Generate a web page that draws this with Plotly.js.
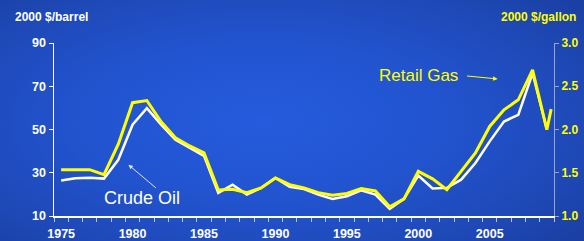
<!DOCTYPE html>
<html>
<head>
<meta charset="utf-8">
<script src="https://cdn.plot.ly/plotly-3.0.1.min.js"></script>
<style>
  html, body { margin: 0; padding: 0; }
  body {
    width: 584px; height: 241px; overflow: hidden;
    background: radial-gradient(ellipse 75% 80% at 45% 50%, #255bdc 0%, #2254d0 40%, #1e48b5 75%, #1a3d9e 100%);
  }
  #chart { width: 584px; height: 241px; }
</style>
</head>
<body>
<div id="chart"></div>
<script>
// ---- data ----
const oilYears = [1975,1976,1977,1978,1979,1980,1981,1982,1983,1984,1985,1986,1987,1988,1989,1990,1991,1992,1993,1994,1995,1996,1997,1998,1999,2000,2001,2002,2003,2004,2005,2006,2007,2008,2009];
const crudeOil = [26.4,27.4,27.7,27.3,36.0,52.2,59.9,52.2,45.3,41.4,37.8,20.7,24.5,19.9,23.0,27.6,23.5,22.5,19.9,17.9,19.1,21.9,19.9,13.3,17.9,28.7,22.7,23.0,26.8,34.5,44.5,53.7,56.8,76.0,50.0];
const gasYears = [1975,1976,1977,1978,1979,1980,1981,1982,1983,1984,1985,1986,1987,1988,1989,1990,1991,1992,1993,1994,1995,1996,1997,1998,1999,2000,2001,2002,2003,2004,2005,2006,2007,2008,2009,2009.3];
const retailGas = [1.536,1.536,1.536,1.478,1.83,2.31,2.335,2.09,1.905,1.81,1.73,1.30,1.31,1.27,1.325,1.44,1.363,1.325,1.27,1.24,1.26,1.317,1.29,1.106,1.198,1.516,1.43,1.305,1.516,1.728,2.035,2.228,2.343,2.689,1.997,2.236];
const xTickVals = [1975,1980,1985,1990,1995,2000,2005];
const xTickText = ['1975','1980','1985','1990','1995','2000','2005'];
const yLeftTicks = [10,30,50,70,90];
const yRightTicks = [1.0,1.5,2.0,2.5,3.0];
const yRightText = ['1.0','1.5','2.0','2.5','3.0'];

const FONT = 'Liberation Sans, Arial, Helvetica, sans-serif';
const YEL = '#ffff00';

const traces = [
  {
    x: oilYears, y: crudeOil, type: 'scatter', mode: 'lines', name: 'Crude Oil',
    line: { color: '#ffffff', width: 2.5 }, yaxis: 'y', hoverinfo: 'skip'
  },
  {
    x: gasYears, y: retailGas, type: 'scatter', mode: 'lines', name: 'Retail Gas',
    line: { color: YEL, width: 3 }, yaxis: 'y2', hoverinfo: 'skip'
  }
];

const layout = {
  width: 584, height: 241,
  margin: { l: 54, r: 30, t: 43, b: 25, pad: 0 },
  paper_bgcolor: 'rgba(0,0,0,0)',
  plot_bgcolor: 'rgba(0,0,0,0)',
  showlegend: false,
  font: { family: FONT },
  xaxis: {
    range: [1974.5, 2009.5],
    showgrid: false, zeroline: false,
    showline: true, linecolor: '#ffffff', linewidth: 1.5,
    tickmode: 'array', tickvals: xTickVals, ticktext: xTickText,
    ticks: '', ticklabelstandoff: 5,
    tickfont: { family: FONT, size: 12.5, color: '#ffffff', weight: 'bold' },
    minor: { tick0: 1974.5, dtick: 1, ticks: 'outside', ticklen: 4, tickwidth: 1, tickcolor: '#b8c6ee', showgrid: false }
  },
  yaxis: {
    range: [10, 90],
    showgrid: false, zeroline: false,
    showline: true, linecolor: '#ffffff', linewidth: 1.5,
    tickmode: 'array', tickvals: yLeftTicks,
    ticks: 'outside', ticklen: 4, tickcolor: '#ffffff', tickwidth: 1,
    tickfont: { family: FONT, size: 12.5, color: '#ffffff', weight: 'bold' }
  },
  yaxis2: {
    range: [1, 3], overlaying: 'y', side: 'right',
    showgrid: false, zeroline: false,
    showline: true, linecolor: '#9aa4c4', linewidth: 1,
    tickmode: 'array', tickvals: yRightTicks, ticktext: yRightText,
    ticks: 'outside', ticklen: 4, tickcolor: '#9aa4c4', tickwidth: 1,
    tickfont: { family: FONT, size: 12, color: YEL, weight: 'bold' }
  },
  annotations: [
    { xref: 'paper', yref: 'paper', x: -0.006, y: 1.15, xanchor: 'center', yanchor: 'middle',
      text: '2000 $/barrel', showarrow: false,
      font: { family: FONT, size: 12, color: '#ffffff', weight: 'bold' } },
    { xref: 'paper', yref: 'paper', x: 0.968, y: 1.15, xanchor: 'center', yanchor: 'middle',
      text: '2000 $/gallon', showarrow: false,
      font: { family: FONT, size: 12, color: YEL, weight: 'bold' } },
    { xref: 'x', yref: 'y', x: 1980.66, y: 18.5, xanchor: 'center', yanchor: 'middle',
      text: 'Crude Oil', showarrow: false,
      font: { family: FONT, size: 18, color: '#ffffff' } },
    { xref: 'x', yref: 'y', x: 1979.71, y: 33.7, axref: 'x', ayref: 'y', ax: 1981.74, ay: 22.4,
      text: '', showarrow: true, arrowhead: 2, arrowsize: 0.9, arrowwidth: 1, arrowcolor: '#dfe6ff' },
    { xref: 'x', yref: 'y', x: 2000.0, y: 74.8, xanchor: 'center', yanchor: 'middle',
      text: 'Retail Gas', showarrow: false,
      font: { family: FONT, size: 17, color: YEL } },
    { xref: 'x', yref: 'y', x: 2005.55, y: 73.4, axref: 'x', ayref: 'y', ax: 2003.31, ay: 74.8,
      text: '', showarrow: true, arrowhead: 2, arrowsize: 0.9, arrowwidth: 1, arrowcolor: YEL }
  ]
};

Plotly.newPlot('chart', traces, layout, { staticPlot: true, displayModeBar: false });
</script>
</body>
</html>
